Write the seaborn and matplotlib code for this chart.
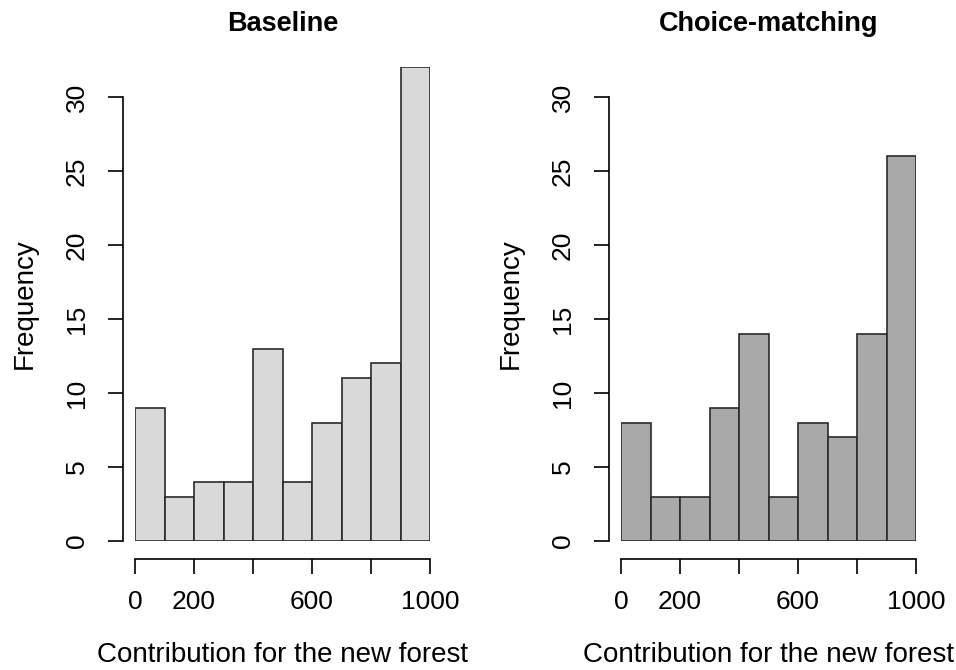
import numpy as np
import pandas as pd
import matplotlib
matplotlib.use("Agg")
import matplotlib.pyplot as plt
import seaborn as sns

# -------------------------------
# DATA (counts per bin of width 100)
# -------------------------------
bin_edges = [0, 100, 200, 300, 400, 500, 600, 700, 800, 900, 1000]
baseline_counts = [9, 3, 4, 4, 13, 4, 8, 11, 12, 32]
choice_counts = [8, 3, 3, 9, 14, 3, 8, 7, 14, 26]

x_ticks = [0, 200, 400, 600, 800, 1000]
x_ticklabels = ["0", "200", "", "600", "", "1000"]
y_ticks = [0, 5, 10, 15, 20, 25, 30]

panels = [
    ("Baseline", baseline_counts, "#d9d9d9"),
    ("Choice-matching", choice_counts, "#a9a9a9"),
]

sns.set_style("white")
plt.rcParams["font.family"] = ["Liberation Sans", "DejaVu Sans"]
plt.rcParams["text.color"] = "black"
plt.rcParams["axes.labelcolor"] = "black"

fig = plt.figure(figsize=(9.56, 6.7), dpi=100)
W, H = 956, 670
# pixel positions of the plotting region (data 0..1000, 0..32)
lefts = [135, 621]
bottom_px, top_px = 541, 67.4

for (title, counts, color), left in zip(panels, lefts):
    ax = fig.add_axes([left / W, (H - bottom_px) / H, 295 / W, (bottom_px - top_px) / H])
    df = pd.DataFrame({
        "mid": [(a + b) / 2 for a, b in zip(bin_edges[:-1], bin_edges[1:])],
        "count": counts,
    })
    sns.histplot(data=df, x="mid", weights="count", bins=bin_edges, ax=ax,
                 color=color, alpha=1, edgecolor="#2a2a2a", linewidth=1.2)
    ax.set_xlim(0, 1000)
    ax.set_ylim(0, 32)

    # R-style detached axes
    for s in ["top", "right"]:
        ax.spines[s].set_visible(False)
    ax.spines["left"].set_position(("outward", 8.6))
    ax.spines["bottom"].set_position(("outward", 12.6))
    ax.spines["left"].set_bounds(0, 30)
    ax.spines["bottom"].set_bounds(0, 1000)
    for s in ["left", "bottom"]:
        ax.spines[s].set_color("black")
        ax.spines[s].set_linewidth(1.2)

    ax.set_xticks(x_ticks)
    ax.set_xticklabels(x_ticklabels)
    ax.set_yticks(y_ticks)
    ax.set_yticklabels([str(v) for v in y_ticks], rotation=90, va="center")
    ax.tick_params(axis="both", direction="out", length=10.8, width=1.2,
                   color="black", labelsize=19, labelcolor="black",
                   bottom=True, left=True)
    ax.tick_params(axis="x", pad=12)
    ax.tick_params(axis="y", pad=14)

    ax.set_title(title, fontsize=19.5, fontweight="bold", pad=26)
    ax.set_xlabel("Contribution for the new forest", fontsize=20)
    ax.set_ylabel("Frequency", fontsize=20)
    # place axis labels at the reference pixel positions
    ax.xaxis.set_label_coords((left + 147.5) / W, (H - 642) / H, transform=fig.transFigure)
    ax.yaxis.set_label_coords((left - 97) / W, (H - 304) / H, transform=fig.transFigure)

fig.savefig("out.png", dpi=100, facecolor="white")
